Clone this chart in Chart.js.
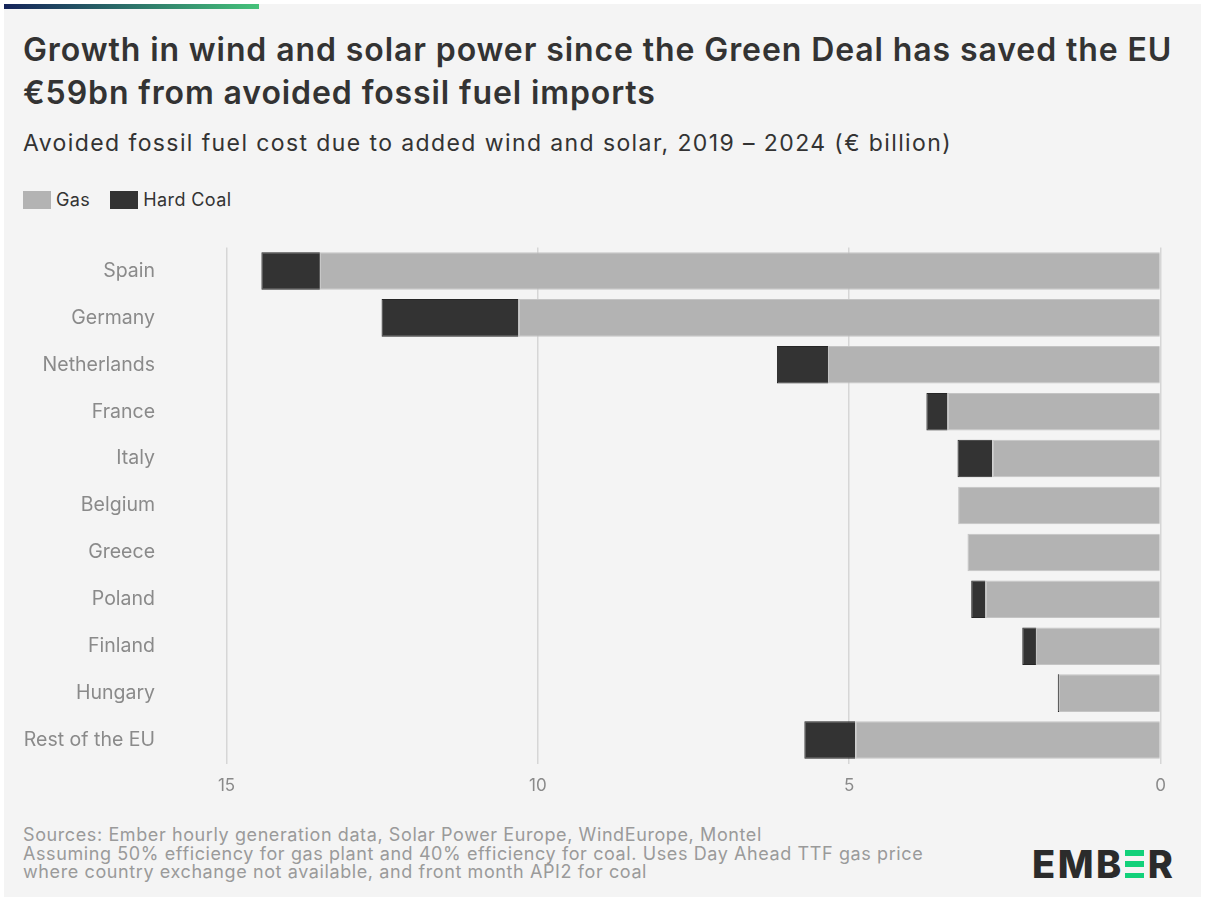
<!DOCTYPE html>
<html>
<head>
<meta charset="utf-8">
<script src="https://cdn.jsdelivr.net/npm/chart.js@4.4.1/dist/chart.umd.min.js"></script>
<style>
    html, body { margin: 0; padding: 0; background: #ffffff; }
    body { width: 1205px; height: 900px; position: relative; overflow: hidden; font-family: Inter, "Noto Sans", sans-serif; }
    .card { position: absolute; left: 4px; top: 4px; width: 1197px; height: 893px; background: #f4f4f4; }
    .topbar { position: absolute; left: 4px; top: 4px; width: 255px; height: 5px; background: linear-gradient(to right, #15245a, #45c27a); }
    .title { position: absolute; left: 23px; top: 28px; width: 1180px; font-size: 32px; font-weight: 600; line-height: 43px; color: #333333; letter-spacing: 0.9px; white-space: nowrap; }
    .subtitle { position: absolute; left: 23px; top: 129px; font-size: 23px; color: #333333; letter-spacing: 1.4px; white-space: nowrap; }
    .legend { position: absolute; left: 23px; top: 189px; font-size: 18px; color: #333333; display: flex; align-items: center; letter-spacing: 0.4px; }
    .legend .box { width: 28px; height: 18px; display: inline-block; margin-right: 5px; }
    .legend .item { display: flex; align-items: center; margin-right: 20px; }
    #chartWrap { position: absolute; left: 0; top: 240px; width: 1205px; height: 570px; }
    .footer { position: absolute; left: 23px; top: 826px; font-size: 18px; line-height: 18.5px; color: #9a9a9a; letter-spacing: 0.6px; white-space: nowrap; }
    .logo { position: absolute; left: 1032px; top: 846px; height: 36px; display: flex; align-items: center; font-size: 38px; font-weight: 800; color: #2b2b2b; letter-spacing: 2.5px; }
    .logo .e { width: 19px; height: 28px; display: flex; flex-direction: column; justify-content: space-between; margin: 0 4px 0 1px; }
    .logo .e span { display: block; height: 5.5px; background: #12d17a; }
</style>
</head>
<body>
<div class="card"></div>
<div class="topbar"></div>
<div class="title">Growth in wind and solar power since the Green Deal has saved the EU<br>€59bn from avoided fossil fuel imports</div>
<div class="subtitle">Avoided fossil fuel cost due to added wind and solar, 2019 – 2024 (€ billion)</div>
<div class="legend">
    <div class="item"><span class="box" style="background:#b3b3b3"></span>Gas</div>
    <div class="item"><span class="box" style="background:#333333"></span>Hard Coal</div>
</div>
<div id="chartWrap"><canvas id="avoidedChart"></canvas></div>
<div class="footer">
    Sources: Ember hourly generation data, Solar Power Europe, WindEurope, Montel<br>
    Assuming 50% efficiency for gas plant and 40% efficiency for coal. Uses Day Ahead TTF gas price<br>
    where country exchange not available, and front month API2 for coal
</div>
<div class="logo">EMB<div class="e"><span></span><span></span><span></span></div>R</div>

<script>
// Data (€ billion)
const countries = ['Spain', 'Germany', 'Netherlands', 'France', 'Italy', 'Belgium', 'Greece', 'Poland', 'Finland', 'Hungary', 'Rest of the EU'];
const gasValues = [13.50, 10.31, 5.34, 3.42, 2.70, 3.25, 3.10, 2.81, 2.00, 1.63, 4.90];
const coalValues = [0.94, 2.20, 0.82, 0.34, 0.56, 0, 0, 0.23, 0.22, 0.02, 0.82];
const xTicks = [0, 5, 10, 15];

// Chart
function initializeChart() {
    const ctx = document.getElementById('avoidedChart');
    if (!ctx) return;

    new Chart(ctx, {
        type: 'bar',
        data: {
            labels: countries,
            datasets: [
                {
                    label: 'Gas',
                    data: gasValues,
                    backgroundColor: '#b3b3b3',
                    borderColor: '#c4c4c4',
                    borderWidth: 1
                },
                {
                    label: 'Hard Coal',
                    data: coalValues,
                    backgroundColor: '#333333',
                    borderColor: '#262626',
                    borderWidth: 1
                }
            ]
        },
        options: {
            indexAxis: 'y',
            responsive: true,
            maintainAspectRatio: false,
            animation: false,
            datasets: {
                bar: {
                    categoryPercentage: 1,
                    barPercentage: 0.8
                }
            },
            layout: {
                padding: { top: 7.5, right: 44.5, bottom: 0, left: 0 }
            },
            plugins: {
                legend: { display: false },
                tooltip: { enabled: false }
            },
            scales: {
                x: {
                    stacked: true,
                    reverse: true,
                    min: 0,
                    max: 15,
                    afterBuildTicks: function (axis) {
                        axis.ticks = xTicks.map(v => ({ value: v }));
                    },
                    afterFit: function (axis) {
                        axis.height = 46.5;
                    },
                    border: { display: false },
                    grid: {
                        color: '#d6d6d6',
                        lineWidth: 1.5,
                        drawTicks: false
                    },
                    ticks: {
                        padding: 12,
                        color: '#8a8a8a',
                        font: { family: 'Inter', size: 17 }
                    }
                },
                y: {
                    stacked: true,
                    afterFit: function (axis) {
                        // label gap comes from tick padding; keep it out of the vertical layout
                        axis.width = 226.5;
                        axis.paddingTop = 0;
                        axis.paddingBottom = 0;
                    },
                    border: { display: false },
                    grid: { display: false, drawTicks: false },
                    ticks: {
                        padding: 71.5,
                        color: '#8a8a8a',
                        font: { family: 'Inter', size: 19.5 }
                    }
                }
            }
        }
    });
}

document.addEventListener('DOMContentLoaded', function () {
    initializeChart();
});
</script>
</body>
</html>
